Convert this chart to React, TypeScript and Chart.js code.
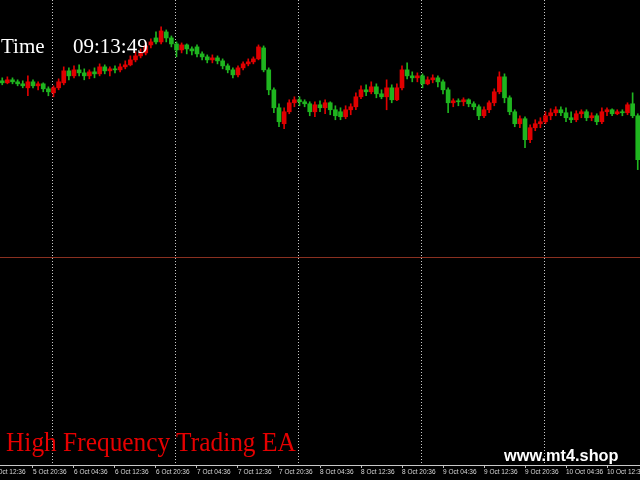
import React, { useEffect, useRef } from "react";
import { Chart, registerables } from "chart.js";

Chart.register(...registerables);

// Hourly candles, bar index 0 = "5 Oct 12:36"
const openP = [
  1416, 1418, 1419, 1417, 1420, 1418, 1416, 1412, 1418, 1414,
  1416, 1411, 1407, 1412, 1417, 1429, 1424, 1430, 1427, 1424,
  1428, 1426, 1433, 1429, 1431, 1430, 1433, 1435, 1440, 1444,
  1447, 1455, 1462, 1458, 1468, 1462, 1456, 1450, 1455, 1451,
  1453, 1446, 1443, 1440, 1442, 1439, 1434, 1430, 1425, 1432,
  1436, 1438, 1441, 1452, 1430, 1410, 1392, 1376, 1388, 1397,
  1400, 1398, 1396, 1388, 1395, 1392, 1397, 1390, 1388, 1383,
  1390, 1393, 1403, 1410, 1408, 1413, 1406, 1403, 1412, 1400,
  1412, 1430, 1424, 1422, 1424, 1416, 1420, 1422, 1418, 1410,
  1397, 1399, 1398, 1400, 1396, 1393, 1384, 1390, 1397, 1408,
  1423, 1402, 1388, 1376, 1381, 1360, 1372, 1376, 1378, 1384,
  1387, 1390, 1387, 1382, 1380, 1386, 1388, 1382, 1384, 1378,
  1388, 1390, 1386, 1388, 1387, 1396, 1384,
];
const closeP = [
  1418, 1419, 1417, 1420, 1418, 1416, 1414, 1418, 1414, 1416,
  1411, 1408, 1412, 1418, 1429, 1424, 1430, 1427, 1424, 1428,
  1426, 1433, 1429, 1431, 1430, 1433, 1435, 1440, 1444, 1447,
  1454, 1458, 1458, 1469, 1462, 1456, 1450, 1455, 1451, 1449,
  1446, 1443, 1440, 1442, 1439, 1434, 1430, 1425, 1432, 1436,
  1438, 1441, 1453, 1430, 1410, 1392, 1378, 1388, 1397, 1400,
  1398, 1396, 1388, 1395, 1392, 1397, 1390, 1384, 1383, 1390,
  1393, 1403, 1410, 1408, 1413, 1406, 1403, 1412, 1400, 1412,
  1430, 1424, 1422, 1424, 1416, 1420, 1422, 1418, 1410, 1397,
  1399, 1398, 1400, 1396, 1393, 1384, 1390, 1397, 1408, 1423,
  1402, 1388, 1376, 1381, 1360, 1372, 1376, 1378, 1384, 1387,
  1390, 1387, 1382, 1380, 1386, 1388, 1382, 1384, 1378, 1388,
  1390, 1386, 1388, 1387, 1395, 1384, 1340,
];
const highP = [
  1420, 1421, 1422, 1423, 1422, 1420, 1419, 1424, 1420, 1418,
  1417, 1413, 1414, 1421, 1433, 1432, 1434, 1435, 1431, 1430,
  1432, 1436, 1435, 1433, 1434, 1436, 1439, 1444, 1448, 1451,
  1458, 1461, 1468, 1473, 1470, 1464, 1458, 1457, 1456, 1453,
  1455, 1448, 1445, 1445, 1444, 1441, 1436, 1432, 1434, 1438,
  1441, 1443, 1455, 1454, 1432, 1412, 1396, 1392, 1400, 1403,
  1403, 1400, 1398, 1398, 1399, 1400, 1398, 1394, 1392, 1394,
  1396, 1407, 1414, 1415, 1418, 1416, 1410, 1420, 1415, 1416,
  1434, 1437, 1428, 1427, 1426, 1423, 1425, 1424, 1420, 1412,
  1401, 1401, 1402, 1401, 1398, 1395, 1393, 1399, 1411, 1428,
  1426, 1404, 1390, 1384, 1383, 1375, 1380, 1382, 1388, 1391,
  1393, 1393, 1392, 1388, 1389, 1390, 1390, 1387, 1386, 1392,
  1392, 1391, 1390, 1390, 1397, 1407, 1386,
];
const lowP = [
  1414, 1416, 1415, 1416, 1416, 1414, 1412, 1404, 1412, 1410,
  1408, 1404, 1403, 1410, 1415, 1420, 1422, 1424, 1420, 1421,
  1422, 1424, 1426, 1424, 1427, 1428, 1431, 1434, 1438, 1442,
  1445, 1452, 1456, 1456, 1458, 1453, 1443, 1447, 1446, 1445,
  1443, 1440, 1437, 1437, 1436, 1431, 1427, 1422, 1423, 1430,
  1434, 1436, 1440, 1428, 1405, 1387, 1373, 1371, 1386, 1393,
  1394, 1393, 1384, 1383, 1388, 1386, 1385, 1380, 1380, 1381,
  1385, 1390, 1401, 1404, 1406, 1402, 1401, 1390, 1397, 1399,
  1410, 1421, 1418, 1418, 1412, 1415, 1417, 1413, 1406, 1387,
  1393, 1394, 1394, 1393, 1390, 1380, 1382, 1387, 1394, 1406,
  1397, 1385, 1373, 1372, 1352, 1357, 1369, 1372, 1376, 1380,
  1384, 1384, 1378, 1377, 1378, 1382, 1379, 1379, 1375, 1376,
  1384, 1384, 1385, 1384, 1385, 1382, 1330,
];

const tickBars = [0, 8, 16, 24, 32, 40, 48, 56, 64, 72, 80, 88, 96, 104, 112, 120];
const tickLabels = [
  "5 Oct 12:36", "5 Oct 20:36", "6 Oct 04:36", "6 Oct 12:36",
  "6 Oct 20:36", "7 Oct 04:36", "7 Oct 12:36", "7 Oct 20:36",
  "8 Oct 04:36", "8 Oct 12:36", "8 Oct 20:36", "9 Oct 04:36",
  "9 Oct 12:36", "9 Oct 20:36", "10 Oct 04:36", "10 Oct 12:36",
];
const daySeparators = [11.8, 35.8, 59.8, 83.8, 107.8];
const priceLevel = 1242;

const UP = "#e00000";
const DOWN = "#1fb51f";

const candleColor = (ctx: any) =>
  closeP[ctx.dataIndex] >= openP[ctx.dataIndex] ? UP : DOWN;

const overlayPlugin = {
  id: "mtOverlay",
  beforeDatasetsDraw(chart: any) {
    const { ctx, chartArea, scales } = chart;
    const xs = scales.x;
    const ys = scales.y;
    ctx.save();
    // price level line
    const py = Math.round(ys.getPixelForValue(priceLevel)) + 0.5;
    ctx.strokeStyle = "#8a3020";
    ctx.lineWidth = 1;
    ctx.beginPath();
    ctx.moveTo(chartArea.left, py);
    ctx.lineTo(chartArea.right, py);
    ctx.stroke();
    // day separators
    ctx.strokeStyle = "#c8c8c8";
    ctx.setLineDash([1, 2]);
    daySeparators.forEach((v) => {
      const px = Math.round(xs.getPixelForValue(v)) + 0.5;
      ctx.beginPath();
      ctx.moveTo(px, chartArea.top);
      ctx.lineTo(px, chartArea.bottom);
      ctx.stroke();
    });
    ctx.restore();
  },
};

export default function App() {
  const canvasRef = useRef<HTMLCanvasElement | null>(null);

  useEffect(() => {
    document.body.style.background = "#000";
    const canvas = canvasRef.current;
    if (!canvas) return;
    const wicks = lowP.map((l, i) => ({ x: i, y: [l, highP[i]] }));
    const bodies = openP.map((o, i) => ({ x: i, y: [o, closeP[i]] }));
    const chart = new Chart(canvas, {
      type: "bar",
      data: {
        datasets: [
          {
            data: bodies as any,
            backgroundColor: candleColor,
            borderWidth: 0,
            barThickness: 4,
            minBarLength: 1,
            grouped: false,
            order: 1,
          } as any,
          {
            data: wicks as any,
            backgroundColor: candleColor,
            borderWidth: 0,
            barThickness: 1,
            grouped: false,
            order: 2,
          } as any,
        ],
      },
      options: {
        animation: false,
        responsive: true,
        maintainAspectRatio: false,
        layout: { padding: { left: 0, right: 0, top: 0, bottom: 4.2 }, autoPadding: false } as any,
        plugins: {
          legend: { display: false },
          tooltip: { enabled: false },
          title: { display: false },
        },
        scales: {
          x: {
            type: "linear",
            min: 1.561,
            max: 126.439,
            offset: false,
            afterBuildTicks: (scale: any) => {
              scale.ticks = tickBars.map((v) => ({ value: v }));
            },
            afterFit: (scale: any) => {
              scale.paddingLeft = 0;
              scale.paddingRight = 0;
            },
            ticks: {
              autoSkip: false,
              maxRotation: 0,
              minRotation: 0,
              align: "start",
              padding: 0,
              color: "#d8d8d8",
              font: { family: "'Liberation Sans', Arial, sans-serif", size: 6.5 },
              callback: (v: any) => {
                const k = tickBars.indexOf(Number(v));
                return k >= 0 ? tickLabels[k] : "";
              },
            },
            grid: {
              drawOnChartArea: false,
              drawTicks: true,
              tickLength: 3,
              color: "#bdbdbd",
              offset: false,
            },
            border: { display: true, color: "#c8c8c8", width: 1 },
          } as any,
          y: {
            display: false,
            min: 1034,
            max: 1500,
          },
        },
      },
      plugins: [overlayPlugin],
    });
    return () => chart.destroy();
  }, []);

  return (
    <div
      style={{
        position: "absolute",
        left: 0,
        top: 0,
        width: 640,
        height: 480,
        background: "#000",
        overflow: "hidden",
      }}
    >
      <canvas ref={canvasRef} />
      <div
        style={{
          position: "absolute",
          left: 1,
          top: 36,
          font: "21px 'Liberation Serif', 'Times New Roman', serif",
          lineHeight: 1,
          color: "#fff",
          whiteSpace: "nowrap",
        }}
      >
        Time
      </div>
      <div
        style={{
          position: "absolute",
          left: 73,
          top: 36,
          font: "21px 'Liberation Serif', 'Times New Roman', serif",
          lineHeight: 1,
          color: "#fff",
          whiteSpace: "nowrap",
        }}
      >
        09:13:49
      </div>
      <div
        style={{
          position: "absolute",
          left: 6,
          top: 429,
          font: "27px 'Liberation Serif', 'Times New Roman', serif",
          lineHeight: 1,
          color: "#e60000",
          whiteSpace: "nowrap",
          transform: "scaleX(0.94)",
          transformOrigin: "left top",
        }}
      >
        High Frequency Trading EA
      </div>
      <div
        style={{
          position: "absolute",
          left: 504,
          top: 447,
          font: "bold 17px 'Liberation Sans', Arial, sans-serif",
          lineHeight: 1,
          color: "#fff",
          whiteSpace: "nowrap",
          transform: "scaleX(0.96)",
          transformOrigin: "left top",
        }}
      >
        www.mt4.shop
      </div>
    </div>
  );
}
